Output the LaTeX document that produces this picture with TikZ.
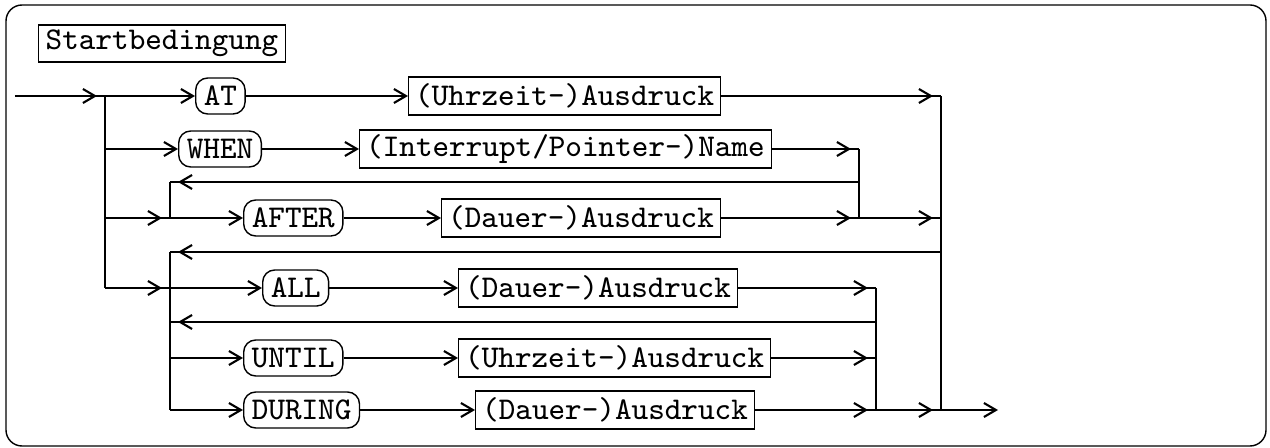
\documentclass[tikz,border=0pt]{standalone}
\usepackage{tikz}
\usetikzlibrary{arrows.meta,positioning,decorations.markings}

\begin{document}
\begin{tikzpicture}[
  font=\fontsize{9}{11}\selectfont\ttfamily,
  >={Straight Barb[length=1.2mm,width=1.4mm]},
  line width=0.6pt,
  kw/.style={rectangle,rounded corners=0.12cm,draw,line width=0.4pt,
             minimum height=0.36cm,inner xsep=2.3pt,inner ysep=0pt,anchor=west},
  term/.style={rectangle,draw,line width=0.4pt,
               minimum height=0.38cm,inner xsep=1.85pt,inner ysep=0pt,anchor=west},
  vor/.style={postaction={decorate},
              decoration={markings,mark=at position -0.08cm with {\arrow{>}}}}
]
\useasboundingbox (0,0) rectangle (12.70,-4.48);
% Frame
\draw[line width=0.4pt,rounded corners=0.16cm] (0.06,-0.05) rectangle (12.66,-4.46);
% Title
\node[term,minimum height=0.37cm,inner xsep=2pt] (title) at (0.38,-0.435) {Startbedingung};
% Junctions
\coordinate (in) at (0.15,-0.96);
\coordinate (s1) at (1.05,-0.96);
\coordinate (w0) at (1.05,-1.49);
\coordinate (a0) at (1.05,-2.18);
\coordinate (s2) at (1.05,-2.88);
\coordinate (j1) at (1.70,-1.82);
\coordinate (j1b) at (1.70,-2.18);
\coordinate (j2) at (1.70,-2.52);
\coordinate (l1) at (1.70,-2.88);
\coordinate (j3) at (1.70,-3.22);
\coordinate (u0) at (1.70,-3.58);
\coordinate (j2b) at (1.70,-4.10);
\coordinate (m1) at (8.59,-1.49);
\coordinate (r1) at (8.59,-1.82);
\coordinate (m1b) at (8.59,-2.18);
\coordinate (m2) at (8.76,-2.88);
\coordinate (r3) at (8.76,-3.22);
\coordinate (u1) at (8.76,-3.58);
\coordinate (m2b) at (8.76,-4.10);
\coordinate (e1) at (9.41,-0.96);
\coordinate (e2) at (9.41,-2.18);
\coordinate (r2) at (9.41,-2.52);
\coordinate (e1b) at (9.41,-4.10);
\coordinate (out) at (9.98,-4.10);
% AT
\node[kw] (AT) at (1.95,-0.96) {AT};
\node[term] (ATx) at (4.08,-0.96) {(Uhrzeit-)Ausdruck};
% WHEN
\node[kw] (WHEN) at (1.78,-1.49) {WHEN};
\node[term] (WHENx) at (3.59,-1.49) {(Interrupt/Pointer-)Name};
% AFTER
\node[kw] (AFTER) at (2.43,-2.18) {AFTER};
\node[term] (AFTERx) at (4.41,-2.18) {(Dauer-)Ausdruck};
% ALL
\node[kw] (ALL) at (2.62,-2.88) {ALL};
\node[term] (ALLx) at (4.58,-2.88) {(Dauer-)Ausdruck};
% UNTIL
\node[kw] (UNTIL) at (2.43,-3.58) {UNTIL};
\node[term] (UNTILx) at (4.58,-3.58) {(Uhrzeit-)Ausdruck};
% DURING
\node[kw] (DURING) at (2.43,-4.10) {DURING};
\node[term] (DURINGx) at (4.75,-4.10) {(Dauer-)Ausdruck};
% Lines
\draw[vor] (in) -- (s1);
\draw (s1) -- (s2);
\draw[->] (s1) -- (AT);
\draw[->] (AT) -- (ATx);
\draw[vor] (ATx) -- (e1);
\draw[->] (w0) -- (WHEN);
\draw[->] (WHEN) -- (WHENx);
\draw[vor] (WHENx) -- (m1);
\draw (m1) -- (m1b);
\draw[vor] (r1) -- (j1);
\draw (j1) -- (j1b);
\draw[vor] (a0) -- (j1b);
\draw[->] (j1b) -- (AFTER);
\draw[->] (AFTER) -- (AFTERx);
\draw[vor] (AFTERx) -- (m1b);
\draw[vor] (m1b) -- (e2);
\draw[vor] (r2) -- (j2);
\draw (j2) -- (j2b);
\draw[vor] (s2) -- (l1);
\draw[->] (l1) -- (ALL);
\draw[->] (ALL) -- (ALLx);
\draw[vor] (ALLx) -- (m2);
\draw[vor] (r3) -- (j3);
\draw[->] (u0) -- (UNTIL);
\draw[->] (UNTIL) -- (UNTILx);
\draw[vor] (UNTILx) -- (u1);
\draw[->] (j2b) -- (DURING);
\draw[->] (DURING) -- (DURINGx);
\draw[vor] (DURINGx) -- (m2b);
\draw (m2) -- (m2b);
\draw[vor] (m2b) -- (e1b);
\draw (e1) -- (e1b);
\draw[->] (e1b) -- (out);
\end{tikzpicture}
\end{document}
